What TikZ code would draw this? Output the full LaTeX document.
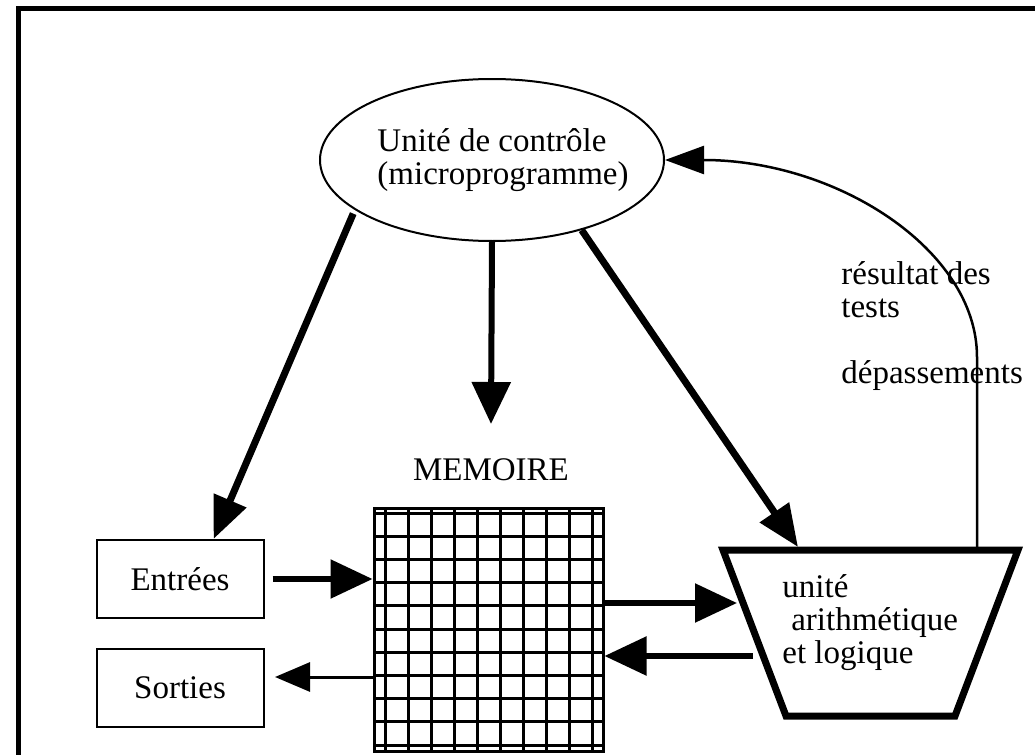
\documentclass[tikz,border=0pt]{standalone}
\usepackage{fontspec}
\setmainfont{Liberation Serif}
\usetikzlibrary{arrows.meta,shapes.geometric}

\begin{document}
\begin{tikzpicture}[
  x=0.5pt, y=-0.5pt,
  font=\fontsize{16.5}{16.5}\selectfont,
  ctrlnode/.style={ellipse, draw, line width=1pt, minimum width=172pt,
    minimum height=81pt, inner xsep=-20pt, inner ysep=0pt, align=left},
  iobox/.style={draw, line width=1pt, minimum width=83.5pt,
    minimum height=39pt, inner sep=0pt},
  memgrid/.style={draw, line width=1.5pt, minimum width=114.5pt,
    minimum height=121.5pt, inner sep=0pt},
  gridline/.style={line width=1.5pt},
  cmdarrow/.style={line width=3.5pt, -{Triangle[length=21pt, width=17pt]}},
  dataarrow/.style={line width=2.75pt, -{Triangle[length=21pt, width=19pt]}},
  outarrow/.style={line width=1.5pt, -{Triangle[length=17.5pt, width=14.5pt]}},
  testarrow/.style={line width=1.25pt, -{Triangle[length=19.5pt, width=14pt]}},
]
\useasboundingbox (0,0) rectangle (1035,755);

% Cadre (bord gauche et haut)
\draw[line width=2.5pt] (18.5,760) -- (18.5,8.5) -- (1040,8.5);

% Unite de controle
\node[ctrlnode] (ctrl) at (492,160)
  {\hspace*{11pt}Unité de contrôle\\\hspace*{11pt}(microprogramme)};

% Entrees / Sorties
\node[iobox] (entrees) at (180,579) {Entrées};
\node[iobox] (sorties) at (180,687.5) {Sorties};

% Memoire : grille
\node[anchor=base] (memlabel) at (491,480) {MEMOIRE};
\node[memgrid] (mem) at (488.5,629.5) {};
\foreach \i in {0,...,9}
  \draw[gridline] ({385+23.1*\i},508) -- ({385+23.1*\i},751);
\foreach \j in {0,...,10}
  \draw[gridline] (374,{513+23.2*\j}) -- (603,{513+23.2*\j});

% UAL (trapeze)
\draw[line width=3.5pt, line join=miter] (723,550) -- (1018,550) -- (955,716) -- (786,716) -- cycle;
\node[anchor=base west, align=left, inner sep=0pt] (alu) at (782,663)
  {unité\\\hspace*{0.27em}arithmétique\\et logique};
\node[anchor=base west, align=left, inner sep=0pt] (tests) at (841,383)
  {résultat des\\tests\\[16.5pt]dépassements};

% Points d'arrivee
\coordinate (memin) at (491,424);
\coordinate (aluhit) at (798,547);
\coordinate (aluin) at (737,603);
\coordinate (aluout) at (753,656);
\coordinate (sortin) at (275,677);
\coordinate (fbstart) at (977,550);

% Commandes
\draw[cmdarrow, shorten <=2pt] (ctrl.200) -- (entrees.50);
\draw[dataarrow, line width=3pt] (ctrl.south) -- (memin);
\draw[cmdarrow] (ctrl.322) -- (aluhit);

% Donnees
\draw[dataarrow, shorten <=4pt] (entrees.east) -- (mem.west |- entrees.east);
\draw[outarrow] (mem.west |- sortin) -- (sortin);
\draw[dataarrow] (mem.east |- aluin) -- (aluin);
\draw[dataarrow] (aluout) -- (mem.east |- aluout);

% Retour vers l'unite de controle
\draw[testarrow] (fbstart) -- ++(0,-193) .. controls +(0,-107) and +(172,0) .. (ctrl.east);
\end{tikzpicture}
\end{document}
